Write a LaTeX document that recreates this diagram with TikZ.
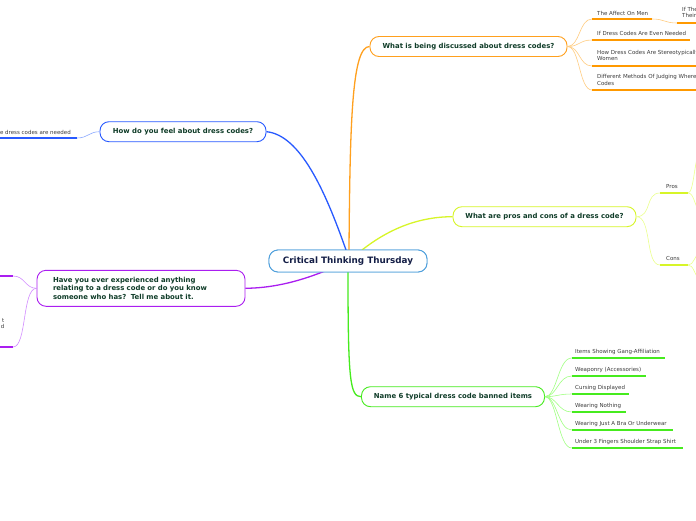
\documentclass[tikz,border=0pt]{standalone}
\usepackage{fontspec}
\setmainfont{DejaVu Sans}
\usetikzlibrary{calc}
\definecolor{rootC}{RGB}{80,160,220}
\definecolor{rootT}{RGB}{20,30,70}
\definecolor{topT}{RGB}{15,60,40}
\definecolor{leafT}{RGB}{60,60,60}
\definecolor{orC}{RGB}{255,160,30}
\definecolor{orL}{RGB}{255,205,130}
\definecolor{orU}{RGB}{255,153,0}
\definecolor{blC}{RGB}{40,90,255}
\definecolor{blL}{RGB}{140,170,255}
\definecolor{ylC}{RGB}{215,245,40}
\definecolor{ylL}{RGB}{235,255,140}
\definecolor{puC}{RGB}{170,30,240}
\definecolor{puL}{RGB}{210,140,255}
\definecolor{grC}{RGB}{70,235,30}
\definecolor{grL}{RGB}{160,255,130}
\begin{document}
\begin{tikzpicture}[x=1pt,y=-1pt,
  rootbox/.style={draw=rootC, line width=0.9pt, rounded corners=9pt, fill=white, minimum width=158pt, minimum height=22pt, inner sep=0pt, text=rootT, font=\bfseries\fontsize{8.8}{10}\selectfont},
  topic/.style={rounded corners=9pt, fill=white, line width=0.9pt, inner sep=0pt, minimum height=20pt, text=topT, font=\bfseries\fontsize{6.9}{8.6}\selectfont},
  leaf/.style={inner sep=0pt, anchor=west, text=leafT, font=\fontsize{5.5}{6.7}\selectfont, align=left},
  conn/.style={line width=1.3pt},
  sub/.style={line width=0.6pt},
  uline/.style={line width=2pt},
]
\useasboundingbox (0,0) rectangle (696,520);
\fill[white] (0,0) rectangle (696,520);

\coordinate (rO) at (349,250);
\coordinate (rB) at (346,250);
\coordinate (rY) at (362,250);
\coordinate (rP) at (325,271);
\coordinate (rG) at (348,272);

% topic nodes
\node[rootbox] (root) at (348,261) {Critical Thinking Thursday};
\node[topic, draw=orC, minimum width=197pt] (orng) at (468.5,46.5) {What is being discussed about dress codes?};
\node[topic, draw=blC, minimum width=166pt] (blue) at (183,131.7) {How do you feel about dress codes?};
\node[topic, draw=ylC, minimum width=183pt] (yell) at (544.5,216.7) {What are pros and cons of a dress code?};
\node[topic, draw=puC, minimum width=208pt, minimum height=36pt, text width=176pt, align=left, inner xsep=16pt] (purp) at (141,288.3) {Have you ever experienced anything\\relating to a dress code or do you know\\someone who has?\ \ Tell me about it.};
\node[topic, draw=grC, minimum width=183pt] (gren) at (453,396.7) {Name 6 typical dress code banned items};

% main connectors
\draw[conn, orC] (rO) .. controls (350,120) and (352,46.5) .. (orng.west);
\draw[conn, blC] (blue.east) .. controls (300,135) and (325,190) .. (rB);
\draw[conn, ylC] (rY) .. controls (390,228) and (420,216.7) .. (yell.west);
\draw[conn, puC] (purp.east) .. controls (270,288) and (295,283) .. (rP);
\draw[conn, grC] (rG) .. controls (348,380) and (350,396.7) .. (gren.west);
\node[rootbox] at (root) {Critical Thinking Thursday};

% ---------- orange children
\node[leaf] (o1) at (597,13) {The Affect On Men};
\node[leaf] (o1s) at (682,12.5) {If The\\Their};
\node[leaf] (o2) at (597,33.5) {If Dress Codes Are Even Needed};
\node[leaf] (o3) at (597,55.5) {How Dress Codes Are Stereotypically\\Women};
\node[leaf] (o4) at (597,80) {Different Methods Of Judging Where\\Codes};
\coordinate (o1a) at (592,19);   \coordinate (o1b) at (652,19);
\coordinate (o1sa) at (677,23);  \coordinate (o1sb) at (700,23);
\coordinate (o2a) at (592,40);   \coordinate (o2b) at (690,40);
\coordinate (o3a) at (592,66);   \coordinate (o3b) at (700,66);
\coordinate (o4a) at (592,90);   \coordinate (o4b) at (700,90);
\foreach \y/\n in {19/o1a,40/o2a,66/o3a,90/o4a}
  \draw[sub, orL] (orng.east) .. controls (580,46.5) and (579,\y) .. (\n);
\draw[sub, orL] (o1b) .. controls (665,19) and (664,23) .. (o1sa);
\foreach \a/\b in {o1a/o1b,o1sa/o1sb,o2a/o2b,o3a/o3b,o4a/o4b}
  \draw[uline, orU] (\a) -- (\b);

% ---------- blue child
\node[leaf, anchor=east] (b1) at (71,132) {e dress codes are needed};
\coordinate (b1a) at (-5,138); \coordinate (b1b) at (77,138);
\draw[sub, blL] (b1b) .. controls (88,138) and (89,131.7) .. (blue.west);
\draw[uline, blC] (b1a) -- (b1b);

% ---------- yellow children
\node[leaf] (ypro) at (666,186.5) {Pros};
\node[leaf] (ycon) at (666,258.5) {Cons};
\coordinate (ypa) at (660,193); \coordinate (ypb) at (688,193);
\coordinate (yca) at (660,265); \coordinate (ycb) at (688,265);
\draw[sub, ylL] (yell.east) .. controls (652,216.7) and (645,193) .. (ypa);
\draw[sub, ylL] (yell.east) .. controls (652,216.7) and (645,265) .. (yca);
\coordinate (yp1) at (700,150); \coordinate (yp2) at (700,212);
\coordinate (yc1) at (700,252); \coordinate (yc2) at (700,280);
\draw[sub, ylL] (ypb) .. controls (694,193) and (694,160) .. (yp1);
\draw[sub, ylL] (ypb) .. controls (694,193) and (694,205) .. (yp2);
\draw[sub, ylL] (ycb) .. controls (694,265) and (694,256) .. (yc1);
\draw[sub, ylL] (ycb) .. controls (694,265) and (694,275) .. (yc2);
\draw[uline, ylC] (ypa) -- (ypb);
\draw[uline, ylC] (yca) -- (ycb);

% ---------- purple children
\node[leaf, anchor=east, align=right] (p2) at (4.5,323.5) {t\\d};
\coordinate (p1a) at (-5,276); \coordinate (p1b) at (13,276);
\coordinate (p2a) at (-5,347); \coordinate (p2b) at (13,347);
\draw[sub, puL] (p1b) .. controls (25,276) and (25,288.3) .. (purp.west);
\draw[sub, puL] (p2b) .. controls (27,347) and (22,288.3) .. (purp.west);
\draw[uline, puC] (p1a) -- (p1b);
\draw[uline, puC] (p2a) -- (p2b);

% ---------- green children
\node[leaf] (g1) at (575,352) {Items Showing Gang-Affiliation};
\node[leaf] (g2) at (575,370) {Weaponry (Accessories)};
\node[leaf] (g3) at (575,388) {Cursing Displayed};
\node[leaf] (g4) at (575,406) {Wearing Nothing};
\node[leaf] (g5) at (575,424) {Wearing Just A Bra Or Underwear};
\node[leaf] (g6) at (575,442) {Under 3 Fingers Shoulder Strap Shirt};
\foreach \i/\y/\e in {1/358/665, 2/376/646, 3/394/629, 4/412/626, 5/430/673, 6/448/683}{
  \coordinate (ga\i) at (571.7,\y);
  \coordinate (gb\i) at (\e,\y);
  \draw[sub, grL] (gren.east) .. controls (557,396.7) and (558,\y) .. (ga\i);
  \draw[uline, grC] (ga\i) -- (gb\i);
}
\end{tikzpicture}
\end{document}
